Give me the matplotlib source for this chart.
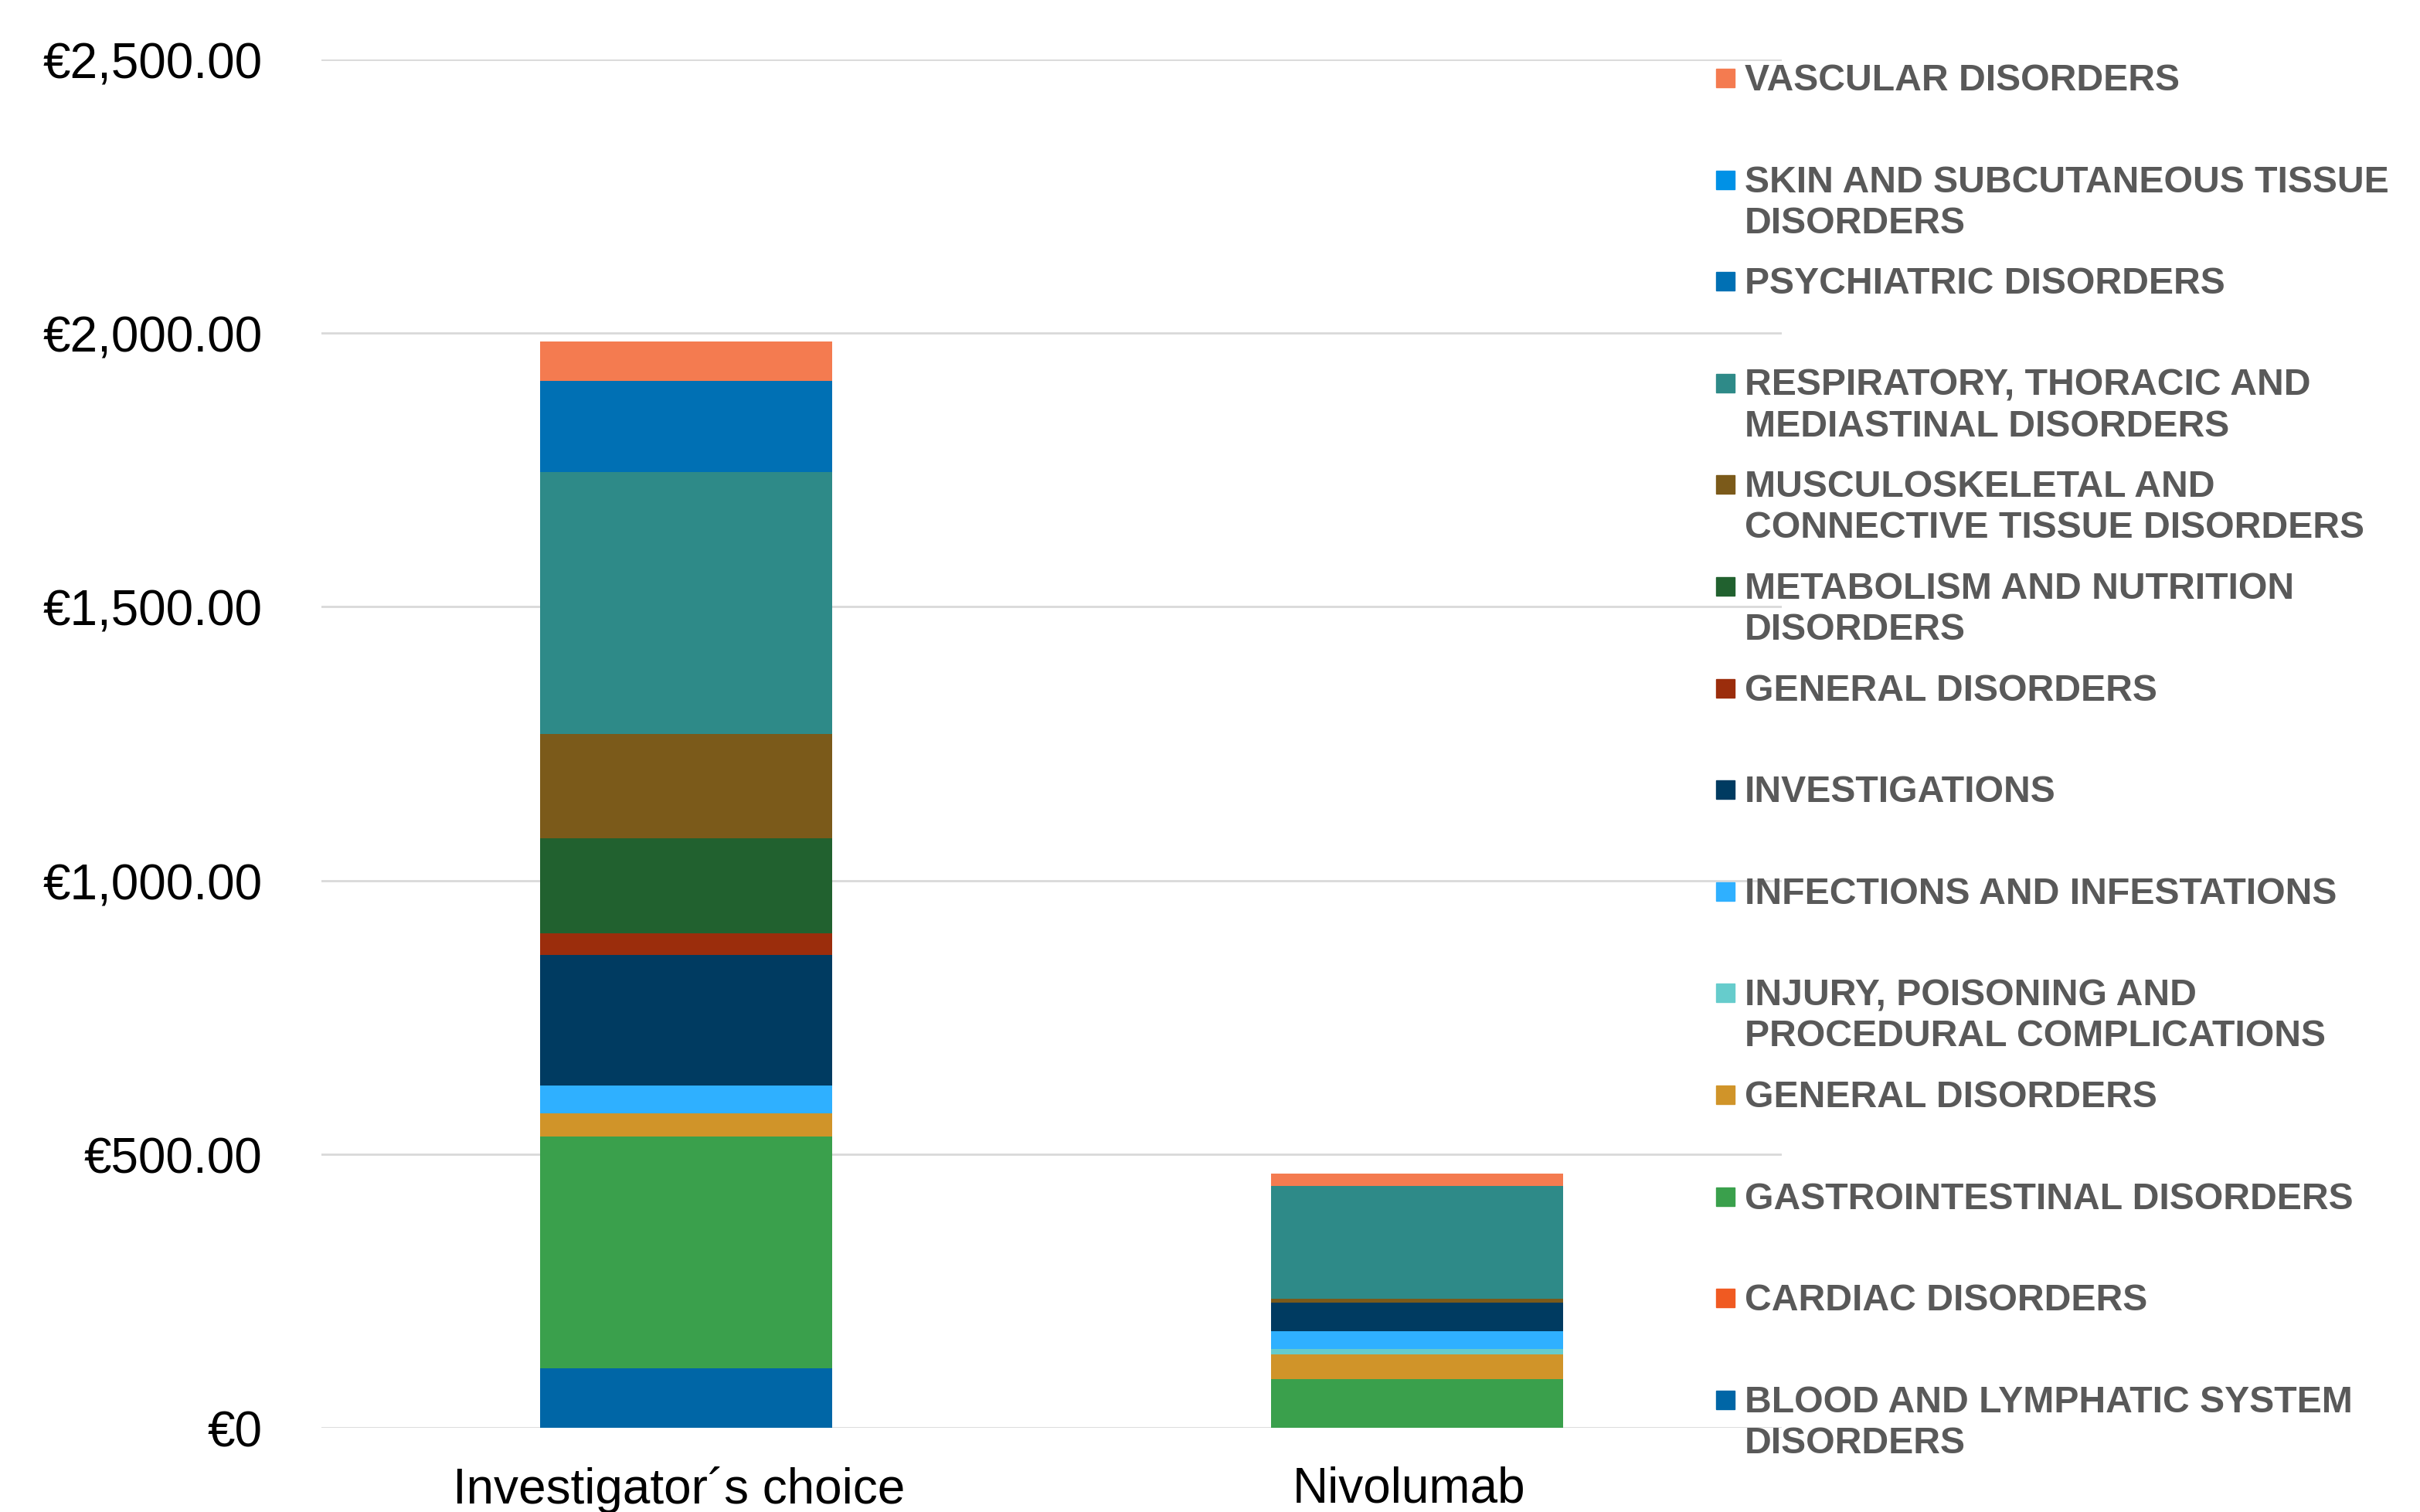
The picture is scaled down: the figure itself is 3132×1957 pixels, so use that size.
import matplotlib.pyplot as plt
import matplotlib.patches as mpatches
from matplotlib.ticker import FuncFormatter
from matplotlib.transforms import ScaledTranslation
import numpy as np

plt.rcParams['font.family'] = ['Liberation Sans', 'DejaVu Sans']

# arms on the x axis
arms = ['Investigator\u00b4s choice', 'Nivolumab']

# series in stacking order (bottom -> top), values in EUR
series = ['BLOOD AND LYMPHATIC SYSTEM\nDISORDERS',
          'CARDIAC DISORDERS',
          'GASTROINTESTINAL DISORDERS',
          'GENERAL DISORDERS',
          'INJURY, POISONING AND\nPROCEDURAL COMPLICATIONS',
          'INFECTIONS AND INFESTATIONS',
          'INVESTIGATIONS',
          'GENERAL DISORDERS',
          'METABOLISM AND NUTRITION\nDISORDERS',
          'MUSCULOSKELETAL AND\nCONNECTIVE TISSUE DISORDERS',
          'RESPIRATORY, THORACIC AND\nMEDIASTINAL DISORDERS',
          'PSYCHIATRIC DISORDERS',
          'SKIN AND SUBCUTANEOUS TISSUE\nDISORDERS',
          'VASCULAR DISORDERS']
investigator = [108, 0, 424, 43, 0, 50, 239, 40, 173, 191, 478, 166, 0, 73]
nivolumab = [0, 0, 89.5, 45, 10, 31.5, 52, 0, 0, 7, 207, 0, 0, 23]
colors = ['#0066A6', '#F05A22', '#3AA04C', '#D09429', '#66CCCC', '#2FB0FF',
          '#003B61', '#9B2D0C', '#21612F', '#7B5A1A', '#2E8A88', '#0070B4',
          '#0091E6', '#F47B50']

fig = plt.figure(figsize=(31.32, 19.58), dpi=100)
ax = fig.add_axes([0.1328, 0.0557, 0.6035, 0.9045])

x = np.arange(len(arms))
bottom = np.zeros(len(arms))
for i in range(len(series)):
    vals = np.array([investigator[i], nivolumab[i]])
    ax.bar(x, vals, width=0.4, bottom=bottom, color=colors[i], linewidth=0, zorder=3)
    bottom = bottom + vals

ax.set_xlim(-0.5, 1.5)
ax.set_ylim(0, 2500)
ax.set_yticks(np.arange(0, 2501, 500))
ax.yaxis.set_major_formatter(FuncFormatter(lambda v, p: '\u20ac0' if v == 0 else '\u20ac{:,.2f}'.format(v)))
ax.set_xticks(x)
ax.set_xticklabels(arms)
ax.grid(axis='y', color='#D9D9D9', linewidth=2, zorder=0)
for s in ax.spines.values():
    s.set_visible(False)
ax.tick_params(axis='both', length=0, labelsize=46, colors='black')
ax.tick_params(axis='y', pad=55)
ax.tick_params(axis='x', pad=35)
for lbl in ax.get_xticklabels():
    lbl.set_transform(lbl.get_transform() + ScaledTranslation(-0.1, 0, fig.dpi_scale_trans))

# legend, drawn by hand so the square sits on the first line of each label
leg_top = 1 - 102 / 1958
step = 131.6 / 1958
sq = 24
for k, i in enumerate(range(len(series) - 1, -1, -1)):
    yc = leg_top - k * step
    fig.patches.append(mpatches.Rectangle((2221 / 3132, yc - sq / 2 / 1958), sq / 3132, sq / 1958,
                                          transform=fig.transFigure, color=colors[i]))
    fig.text(2258 / 3132, yc + 20 / 1958, series[i], fontsize=34.7, fontweight='bold',
             color='#595959', va='top', ha='left', linespacing=1.23)

fig.savefig('out.png', dpi=100)
